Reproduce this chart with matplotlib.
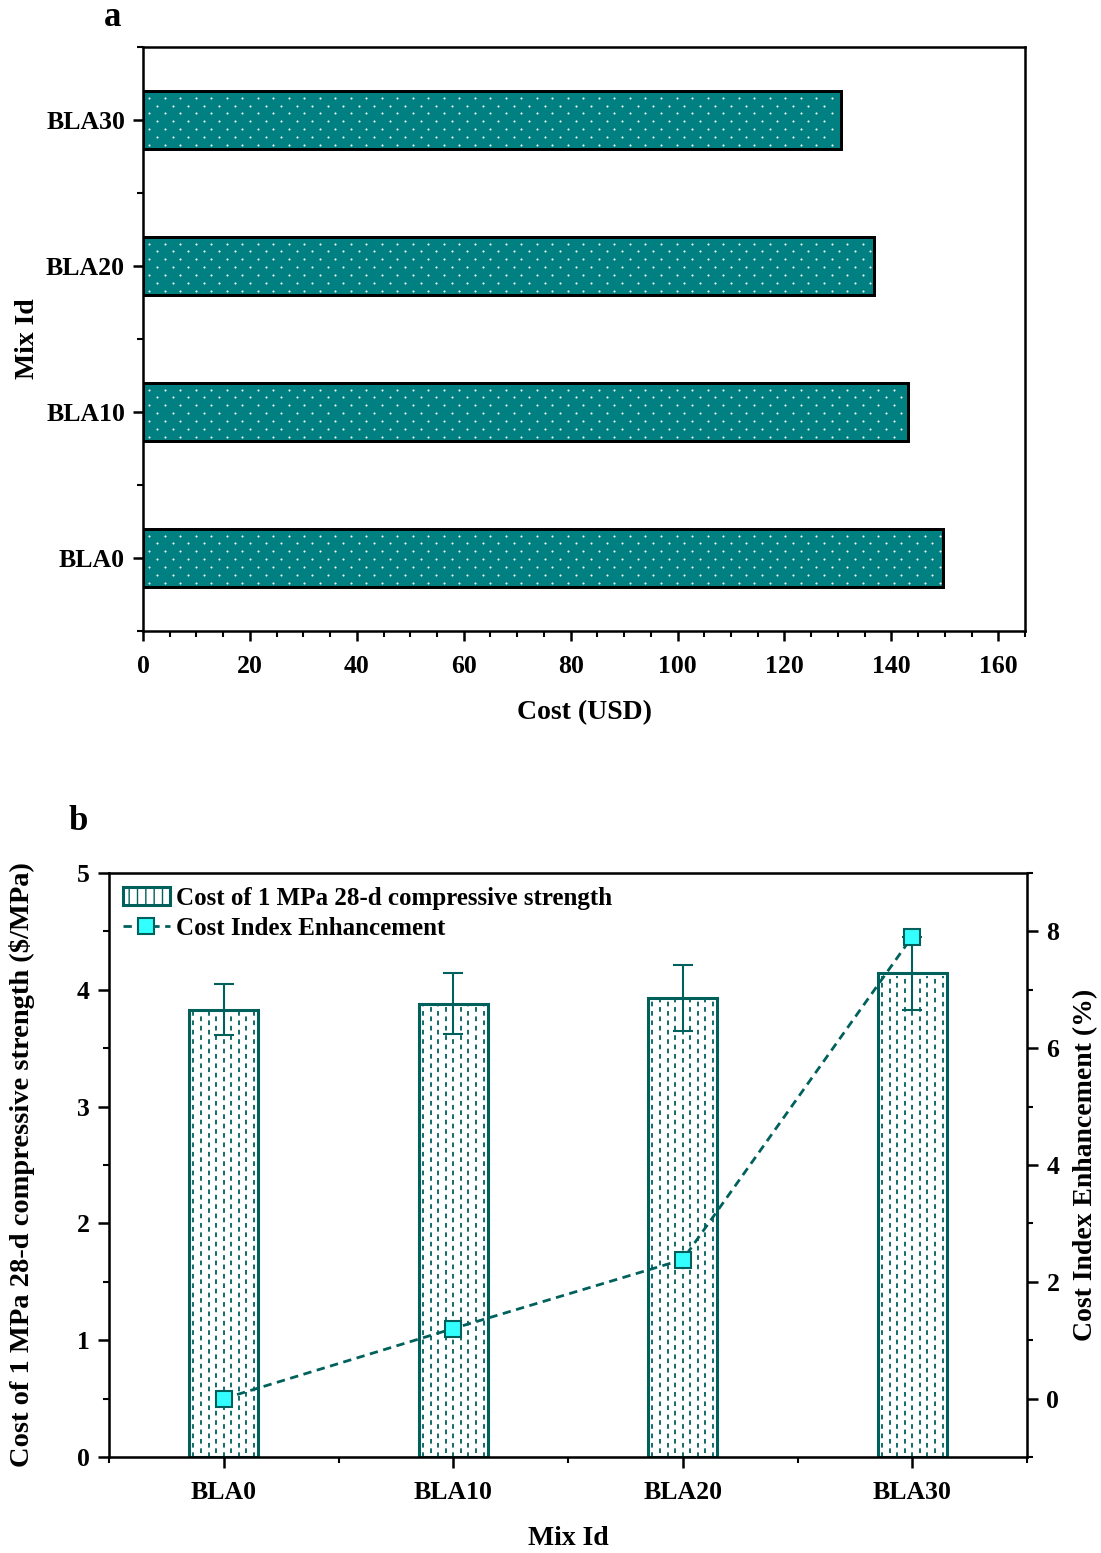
import numpy as np
import matplotlib
matplotlib.use("Agg")
import matplotlib.pyplot as plt
from matplotlib.patches import Patch
from matplotlib.lines import Line2D
from matplotlib.ticker import MultipleLocator

plt.rcParams['font.family'] = ['Liberation Serif', 'DejaVu Serif']
plt.rcParams['font.weight'] = 'bold'
plt.rcParams['axes.labelweight'] = 'bold'

# Mix data
mixes = ['BLA0', 'BLA10', 'BLA20', 'BLA30']
cost_usd = [149.6, 143.1, 136.8, 130.5]
cost_per_mpa = [3.83, 3.88, 3.93, 4.14]
cost_per_mpa_err = [0.22, 0.26, 0.28, 0.31]
cost_index = [0.0, 1.2, 2.38, 7.91]

teal = '#008080'
dark_teal = '#00605c'
cyan = '#33ffff'

fig = plt.figure(figsize=(11.01, 15.53), dpi=100)

# ---- (a) total cost, horizontal bars ----
ax1 = fig.add_axes([0.1299, 0.5937, 0.8011, 0.376])
pos = np.arange(len(mixes))
bh = 0.4
bars = ax1.barh(pos, cost_usd, height=bh, color=teal, edgecolor='black', linewidth=2, zorder=2)
ax1.set_xlim(0, 165)
ax1.set_ylim(-0.5, 3.5)

# white dot texture inside each bar (staggered rows)
dx, dy = 2.9, 0.0535
for rect, y0, w in zip(bars, pos, cost_usd):
    pts = []
    rows = np.arange(y0 - bh / 2 + dy * 0.6, y0 + bh / 2, dy)
    for i, yy in enumerate(rows):
        start = 1.2 if i % 2 == 0 else 1.2 + dx / 2
        for xx in np.arange(start, w - 0.3, dx):
            pts.append((xx, yy))
    pts = np.array(pts)
    sc = ax1.scatter(pts[:, 0], pts[:, 1], s=2.2, c='white', linewidths=0, zorder=2.5)
    sc.set_clip_path(rect)
# redraw outlines above the dots
ax1.barh(pos, cost_usd, height=bh, fill=False, edgecolor='black', linewidth=2, zorder=3)

ax1.set_yticks(pos)
ax1.set_yticklabels(mixes)
ax1.yaxis.set_minor_locator(MultipleLocator(0.5))
ax1.xaxis.set_major_locator(MultipleLocator(20))
ax1.xaxis.set_minor_locator(MultipleLocator(5))
ax1.set_xlabel('Cost (USD)', fontsize=20, labelpad=16)
ax1.set_ylabel('Mix Id', fontsize=20, labelpad=4)
for s in ax1.spines.values():
    s.set_linewidth(1.8)
ax1.tick_params(which='major', direction='out', length=7, width=1.8, labelsize=18.5, pad=6)
ax1.tick_params(axis='x', which='major', pad=10)
ax1.tick_params(which='minor', direction='out', length=4, width=1.5)
ax1.tick_params(top=False, right=False, which='both')
fig.text(0.102, 0.989, 'a', fontsize=25, fontweight='bold', ha='center', va='center')

# ---- (b) cost per MPa with cost index enhancement ----
ax2 = fig.add_axes([0.099, 0.0618, 0.8338, 0.3761])
bw = 0.3
ax2.bar(pos, cost_per_mpa, width=bw, color='white', edgecolor=dark_teal, linewidth=2.2, zorder=2)
# dashed vertical fill inside each bar
for x, h in zip(pos, cost_per_mpa):
    cols = np.linspace(x - bw / 2 + 0.018, x + bw / 2 - 0.018, 9)
    for i, cx in enumerate(cols):
        off = 0 if i % 2 == 0 else 3
        ax2.plot([cx, cx], [0, h - 0.02], color=dark_teal, lw=1.3,
                 linestyle=(off, (2.6, 2.6)), zorder=2.2)
ax2.errorbar(pos, cost_per_mpa, yerr=cost_per_mpa_err, fmt='none', ecolor=dark_teal,
             elinewidth=1.5, capsize=7, capthick=1.5, zorder=3)
ax2.set_xlim(-0.5, 3.5)
ax2.set_ylim(0, 5)
ax2.set_xticks(pos)
ax2.set_xticklabels(mixes)
ax2.xaxis.set_minor_locator(MultipleLocator(0.5))
ax2.yaxis.set_major_locator(MultipleLocator(1))
ax2.yaxis.set_minor_locator(MultipleLocator(0.5))
ax2.set_xlabel('Mix Id', fontsize=20, labelpad=16)
ax2.set_ylabel('Cost of 1 MPa 28-d compressive strength (\\$/MPa)', fontsize=20.5, labelpad=30)
for s in ax2.spines.values():
    s.set_linewidth(1.8)
ax2.tick_params(which='major', direction='out', length=8, width=1.8, labelsize=18.5, pad=9)
ax2.tick_params(which='minor', direction='out', length=4, width=1.5)
ax2.tick_params(axis='y', which='major', pad=6)
ax2.tick_params(top=False, right=False, which='both')

ax3 = ax2.twinx()
ax3.plot(pos, cost_index, linestyle=(0, (3, 2)), color=dark_teal, lw=2,
         marker='s', markersize=11, markerfacecolor=cyan, markeredgecolor=dark_teal,
         markeredgewidth=1.5, zorder=4)
ax3.set_ylim(-1, 9)
ax3.yaxis.set_major_locator(MultipleLocator(2))
ax3.yaxis.set_minor_locator(MultipleLocator(1))
ax3.set_ylabel('Cost Index Enhancement (%)', fontsize=20, labelpad=10)
ax3.tick_params(which='major', direction='out', length=8, width=1.8, labelsize=18.5, pad=6)
ax3.tick_params(which='minor', direction='out', length=4, width=1.5)

handles = [
    Patch(facecolor='white', edgecolor=dark_teal, hatch='||', linewidth=2.2),
    Line2D([], [], linestyle=(0, (3, 2)), color=dark_teal, lw=2, marker='s',
           markersize=11, markerfacecolor=cyan, markeredgecolor=dark_teal, markeredgewidth=1.5),
]
labels = ['Cost of 1 MPa 28-d compressive strength', 'Cost Index Enhancement']
ax3.legend(handles, labels, loc='upper left', frameon=False, fontsize=18,
           handlelength=1.9, handletextpad=0.25, labelspacing=0.3,
           borderaxespad=0.25, borderpad=0.3)
fig.text(0.071, 0.471, 'b', fontsize=25, fontweight='bold', ha='center', va='center')

fig.savefig('out.png', dpi=100)
